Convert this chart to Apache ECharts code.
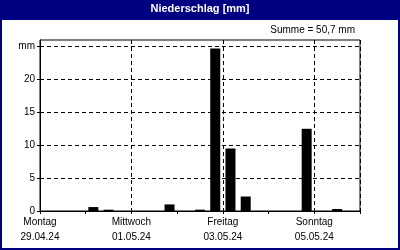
<!DOCTYPE html>
<html>
<head>
<meta charset="utf-8">
<script src="https://cdn.jsdelivr.net/npm/echarts@6/dist/echarts.min.js"></script>
<style>
html,body{margin:0;padding:0;background:#fff;}
#chart{width:400px;height:250px;}
</style>
</head>
<body>
<div id="chart"></div>
<script>
// 8-hour bins, centre hour counted from Montag 29.04.24 00:00
const binCenterHours = [28, 36, 68, 84, 92, 100, 108, 140, 156];
const rainMm = [0.6, 0.2, 1.0, 0.2, 24.7, 9.5, 2.2, 12.5, 0.3];
const dayTickHours = [0, 24, 48, 72, 96, 120, 144, 168];
const labelHours = [0, 48, 96, 144];
const labelDays = ['Montag', 'Mittwoch', 'Freitag', 'Sonntag'];
const labelDates = ['29.04.24', '01.05.24', '03.05.24', '05.05.24'];
const yTicks = [0, 5, 10, 15, 20, 25];
const yUnitLabel = 'mm';
const chartTitle = 'Niederschlag [mm]';
const totalLabel = 'Summe = 50,7 mm';

const FONT = '"Liberation Sans", Arial, sans-serif';
const chart = echarts.init(document.getElementById('chart'), null, {renderer: 'canvas'});
const dash = [4, 3];

chart.setOption({
  animation: false,
  backgroundColor: '#fff',
  graphic: [
    {type: 'rect', shape: {x: 0, y: 0, width: 400, height: 20}, style: {fill: '#000080'}, z: 0},
    {type: 'rect', shape: {x: 1, y: 1, width: 398, height: 248}, style: {fill: 'none', stroke: '#000080', lineWidth: 2}, z: 0}
  ],
  title: [
    {text: chartTitle, left: 'center', top: 3, padding: 0,
     textStyle: {color: '#fff', fontWeight: 'bold', fontSize: 11, fontFamily: FONT}},
    {text: totalLabel, right: 45, top: 25, padding: 0,
     textStyle: {color: '#000', fontWeight: 'normal', fontSize: 10, fontFamily: FONT}}
  ],
  grid: {left: 40, right: 40, top: 40, bottom: 39, show: true, borderColor: '#000', borderWidth: 1, backgroundColor: 'transparent'},
  xAxis: [
    {
      type: 'value', min: 0, max: 168, interval: 24,
      axisLine: {show: true, lineStyle: {color: '#000', width: 1}},
      axisTick: {show: true, length: 3, inside: false, lineStyle: {color: '#000'}, customValues: dayTickHours},
      axisLabel: {
        show: true, margin: 4, color: '#000', fontSize: 10, fontFamily: FONT, lineHeight: 15,
        customValues: labelHours, showMinLabel: true, showMaxLabel: true,
        formatter: function (v) {
          const i = labelHours.indexOf(v);
          return i >= 0 ? labelDays[i] + '\n' + labelDates[i] : '';
        }
      },
      splitLine: {show: false}
    },
    {
      type: 'value', min: 0, max: 168, interval: 48, position: 'bottom',
      axisLine: {show: false}, axisTick: {show: false}, axisLabel: {show: false},
      splitLine: {show: true, lineStyle: {color: '#000', type: dash, width: 1}}
    }
  ],
  yAxis: {
    type: 'value', min: 0, max: 26, interval: 5,
    axisLine: {show: true, lineStyle: {color: '#000', width: 1}},
    axisTick: {show: true, length: 3, inside: false, lineStyle: {color: '#000'}, customValues: yTicks},
    axisLabel: {
      show: true, margin: 5, color: '#000', fontSize: 10, fontFamily: FONT,
      customValues: yTicks,
      formatter: function (v) { return v === 25 ? yUnitLabel : String(v); }
    },
    splitLine: {show: true, lineStyle: {color: '#000', type: dash, width: 1}}
  },
  series: [{
    type: 'bar',
    xAxisIndex: 0,
    barWidth: 10,
    itemStyle: {color: '#000'},
    data: binCenterHours.map((h, i) => [h, rainMm[i]])
  }]
});
</script>
</body>
</html>
